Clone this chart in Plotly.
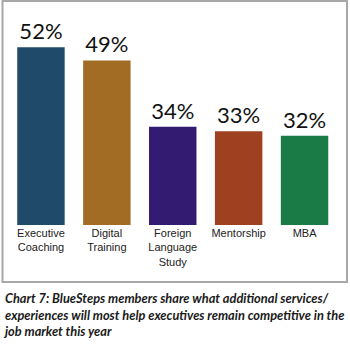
import plotly.graph_objects as go

categories = ["Executive<br>Coaching", "Digital<br>Training", "Foreign<br>Language<br>Study", "Mentorship", "MBA"]
values = [52, 49, 34, 33, 32]
labels = ["52%", "49%", "34%", "33%", "32%"]
colors = ["#1F4A6A", "#A26C25", "#331B72", "#9F4120", "#1B7B47"]
caption = ("Chart 7: BlueSteps members share what additional services/<br>"
           "experiences will most help executives remain competitive in the<br>"
           "job market this year")

W, H = 350, 347
bot_px, top_px = 225, 20
left_px, right_px = 8, 337.5

fig = go.Figure()
fig.add_trace(go.Bar(
    x=categories, y=values, text=labels, textposition="outside",
    texttemplate="%{text}", cliponaxis=False,
    marker=dict(color=colors, line=dict(width=0)),
    textfont=dict(family="Lato", size=22, color="#111111"),
    hoverinfo="skip",
))

fig.update_layout(
    width=W, height=H, autosize=False,
    margin=dict(l=0, r=0, t=0, b=0),
    paper_bgcolor="white", plot_bgcolor="white",
    showlegend=False, bargap=0.28,
    xaxis=dict(domain=[left_px / W, right_px / W], range=[-0.5, 4.5],
               showgrid=False, zeroline=False, showline=False, ticks="",
               tickfont=dict(family="Liberation Sans, Arial", size=11, color="#222222"),
               anchor="y"),
    yaxis=dict(domain=[1 - bot_px / H, 1 - top_px / H], range=[11.8, 58.14],
               visible=False, showgrid=False, zeroline=False),
    shapes=[dict(type="rect", xref="paper", yref="paper",
                 x0=2.5 / W, x1=347 / W, y0=1 - 282 / H, y1=1 - 1 / H,
                 line=dict(color="#A8A8A8", width=2), fillcolor="rgba(0,0,0,0)",
                 layer="below")],
    annotations=[dict(text="<b><i>" + caption + "</i></b>", xref="paper", yref="paper",
                      x=1 / W, y=1 - 288 / H, xanchor="left", yanchor="top",
                      align="left", showarrow=False,
                      font=dict(family="Lato", size=12.8, color="#1a1a1a"))],
)

fig.write_html("out.html")
